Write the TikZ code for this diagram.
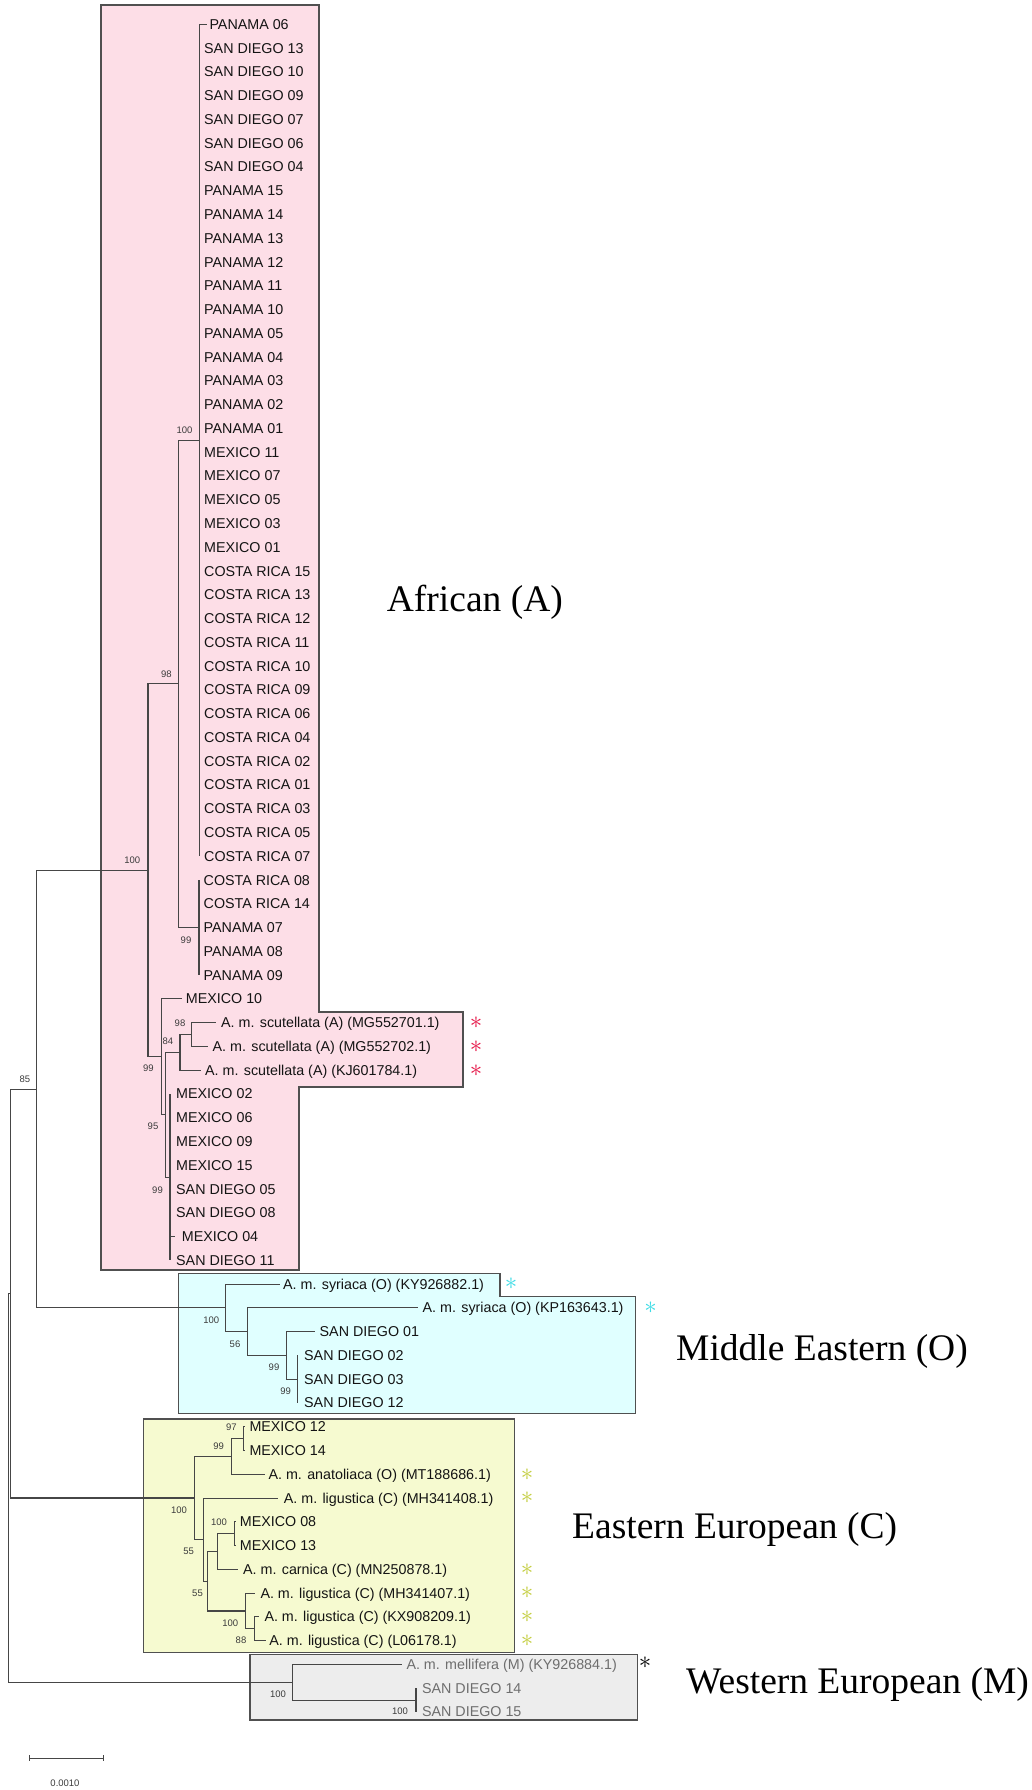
\documentclass[tikz,border=0pt]{standalone}
\usepackage{fontspec}
\setmainfont{Liberation Serif}
\newfontfamily\leafsans{Liberation Sans}
\definecolor{pinkfill}{RGB}{253,222,231}
\definecolor{cyanfill}{RGB}{224,255,255}
\definecolor{yellowfill}{RGB}{246,250,208}
\definecolor{grayfill}{RGB}{237,237,237}
\definecolor{boxborder}{RGB}{80,80,80}
\definecolor{linecol}{RGB}{70,70,70}
\definecolor{leafcol}{RGB}{20,20,20}
\definecolor{westcol}{RGB}{110,110,110}
\definecolor{suppcol}{RGB}{60,60,60}
\definecolor{redast}{RGB}{230,20,70}
\definecolor{cyanast}{RGB}{60,220,230}
\definecolor{yellast}{RGB}{195,205,60}
\newcommand\leaffont{\leafsans\fontsize{14.3}{16}\selectfont}
\newcommand\suppfont{\leafsans\fontsize{9.5}{11}\selectfont}
\newcommand\grpfont{\fontsize{37.5}{40}\selectfont}
\newcommand\astfont{\fontsize{28}{28}\selectfont}
\newcommand\rowy[1]{24.3+(#1-1)*23.77}
\newcommand\mkleaf[5][]{%
  \coordinate (T#2) at (#3,{\rowy{#2}});
  \node[leaf,#1] (L#2) at (#4,{\rowy{#2}}) {#5};}
\tikzset{
  leaf/.style={anchor=base west, inner sep=0pt, font=\leaffont, text=leafcol, yshift=-5pt},
  westleaf/.style={text=westcol},
  supp/.style={inner sep=0pt, font=\suppfont, text=suppcol},
  br/.style={draw=linecol, line width=1.1pt},
  grp/.style={anchor=base west, inner sep=0pt, font=\grpfont, text=black},
  cladebox/.style={draw=boxborder, line width=1.2pt},
  astmark/.style={inner sep=0pt, font=\astfont}
}
\begin{document}
\begin{tikzpicture}[x=1pt,y=-1pt]
\useasboundingbox (0,0) rectangle (1032,1790);
\fill[white] (0,0) rectangle (1032,1790);

% clade boxes
\filldraw[cladebox, fill=pinkfill] (101,5) -- (319,5) -- (319,1012) -- (463,1012) -- (463,1087) -- (299,1087) -- (299,1270) -- (101,1270) -- cycle;
\filldraw[cladebox, fill=cyanfill] (178.5,1273.3) -- (500,1273.3) -- (500,1296.7) -- (635.8,1296.7) -- (635.8,1413.3) -- (178.5,1413.3) -- cycle;
\filldraw[cladebox, fill=yellowfill] (143.75,1419) rectangle (514.3,1652.5);
\filldraw[cladebox, fill=grayfill] (250,1654.5) rectangle (637.5,1720);

% leaves
\mkleaf{1}{207}{209.3}{PANAMA 06}
\mkleaf{2}{199.5}{204}{SAN DIEGO 13}
\mkleaf{3}{199.5}{204}{SAN DIEGO 10}
\mkleaf{4}{199.5}{204}{SAN DIEGO 09}
\mkleaf{5}{199.5}{204}{SAN DIEGO 07}
\mkleaf{6}{199.5}{204}{SAN DIEGO 06}
\mkleaf{7}{199.5}{204}{SAN DIEGO 04}
\mkleaf{8}{199.5}{204}{PANAMA 15}
\mkleaf{9}{199.5}{204}{PANAMA 14}
\mkleaf{10}{199.5}{204}{PANAMA 13}
\mkleaf{11}{199.5}{204}{PANAMA 12}
\mkleaf{12}{199.5}{204}{PANAMA 11}
\mkleaf{13}{199.5}{204}{PANAMA 10}
\mkleaf{14}{199.5}{204}{PANAMA 05}
\mkleaf{15}{199.5}{204}{PANAMA 04}
\mkleaf{16}{199.5}{204}{PANAMA 03}
\mkleaf{17}{199.5}{204}{PANAMA 02}
\mkleaf{18}{199.5}{204}{PANAMA 01}
\mkleaf{19}{199.5}{204}{MEXICO 11}
\mkleaf{20}{199.5}{204}{MEXICO 07}
\mkleaf{21}{199.5}{204}{MEXICO 05}
\mkleaf{22}{199.5}{204}{MEXICO 03}
\mkleaf{23}{199.5}{204}{MEXICO 01}
\mkleaf{24}{199.5}{204}{COSTA RICA 15}
\mkleaf{25}{199.5}{204}{COSTA RICA 13}
\mkleaf{26}{199.5}{204}{COSTA RICA 12}
\mkleaf{27}{199.5}{204}{COSTA RICA 11}
\mkleaf{28}{199.5}{204}{COSTA RICA 10}
\mkleaf{29}{199.5}{204}{COSTA RICA 09}
\mkleaf{30}{199.5}{204}{COSTA RICA 06}
\mkleaf{31}{199.5}{204}{COSTA RICA 04}
\mkleaf{32}{199.5}{204}{COSTA RICA 02}
\mkleaf{33}{199.5}{204}{COSTA RICA 01}
\mkleaf{34}{199.5}{204}{COSTA RICA 03}
\mkleaf{35}{199.5}{204}{COSTA RICA 05}
\mkleaf{36}{199.5}{204}{COSTA RICA 07}
\mkleaf{37}{199}{203.5}{COSTA RICA 08}
\mkleaf{38}{199}{203.5}{COSTA RICA 14}
\mkleaf{39}{199}{203.5}{PANAMA 07}
\mkleaf{40}{199}{203.5}{PANAMA 08}
\mkleaf{41}{199}{203.5}{PANAMA 09}
\mkleaf{42}{181.7}{185.7}{MEXICO 10}
\mkleaf{43}{216}{221}{A. m. scutellata (A) (MG552701.1)}
\mkleaf{44}{208}{212.5}{A. m. scutellata (A) (MG552702.1)}
\mkleaf{45}{200.5}{205}{A. m. scutellata (A) (KJ601784.1)}
\mkleaf{46}{170}{176}{MEXICO 02}
\mkleaf{47}{170}{176}{MEXICO 06}
\mkleaf{48}{170}{176}{MEXICO 09}
\mkleaf{49}{170}{176}{MEXICO 15}
\mkleaf{50}{170}{176}{SAN DIEGO 05}
\mkleaf{51}{170}{176}{SAN DIEGO 08}
\mkleaf{52}{174.5}{181.7}{MEXICO 04}
\mkleaf{53}{170}{176}{SAN DIEGO 11}
\mkleaf{54}{279.5}{283}{A. m. syriaca (O) (KY926882.1)}
\mkleaf{55}{418}{422.5}{A. m. syriaca (O) (KP163643.1)}
\mkleaf{56}{315}{319.5}{SAN DIEGO 01}
\mkleaf{57}{297.9}{304}{SAN DIEGO 02}
\mkleaf{58}{297.9}{304}{SAN DIEGO 03}
\mkleaf{59}{297.9}{304}{SAN DIEGO 12}
\mkleaf{60}{245}{249.3}{MEXICO 12}
\mkleaf{61}{245}{249.3}{MEXICO 14}
\mkleaf{62}{264.6}{268.4}{A. m. anatoliaca (O) (MT188686.1)}
\mkleaf{63}{278}{283.7}{A. m. ligustica (C) (MH341408.1)}
\mkleaf{64}{235.5}{239.7}{MEXICO 08}
\mkleaf{65}{235.5}{239.7}{MEXICO 13}
\mkleaf{66}{238}{243}{A. m. carnica (C) (MN250878.1)}
\mkleaf{67}{254.5}{260.3}{A. m. ligustica (C) (MH341407.1)}
\mkleaf{68}{259}{264.3}{A. m. ligustica (C) (KX908209.1)}
\mkleaf{69}{265.6}{269.2}{A. m. ligustica (C) (L06178.1)}
\mkleaf[westleaf]{70}{401.8}{406.3}{A. m. mellifera (M) (KY926884.1)}
\mkleaf[westleaf]{71}{416}{421.9}{SAN DIEGO 14}
\mkleaf[westleaf]{72}{416}{421.9}{SAN DIEGO 15}

% internal nodes
\coordinate (P1) at (199.5,440.3);
\coordinate (Pc) at (199,927.56);
\coordinate (N98) at (178.3,683.9);
\coordinate (N98s) at (191.7,1034.5);
\coordinate (N84) at (180,1052.3);
\coordinate (P2) at (170,1177.15);
\coordinate (N95) at (165.7,1114.7);
\coordinate (N99b) at (161.7,1056.8);
\coordinate (N100a) at (148,870.35);
\coordinate (N99n) at (297.9,1379.19);
\coordinate (N99m) at (286.4,1355.42);
\coordinate (N56) at (247.3,1331.65);
\coordinate (N100m) at (225.5,1307.88);
\coordinate (N85) at (36.7,1089.1);
\coordinate (N97) at (243.5,1438.6);
\coordinate (N99e) at (231.3,1456.4);
\coordinate (N100x) at (234.4,1533.7);
\coordinate (Ncar) at (217.9,1551.5);
\coordinate (N88) at (254.5,1628.8);
\coordinate (N100l) at (245.5,1611);
\coordinate (N55b) at (207.6,1581.2);
\coordinate (N55a) at (203.1,1539.6);
\coordinate (N100e) at (194.2,1498);
\coordinate (Nmid) at (10.5,1293.6);
\coordinate (N100s) at (416,1700.1);
\coordinate (N100w) at (292.4,1682.3);
\coordinate (Root) at (8.3,1488);

% branches
\foreach \k in {1,...,36} {\draw[br] (P1) |- (T\k);}
\foreach \k in {37,...,41} {\draw[br] (Pc) |- (T\k);}
\draw[br] (N98) |- (P1);
\draw[br] (N98) |- (Pc);
\draw[br] (N98s) |- (T43);
\draw[br] (N98s) |- (T44);
\draw[br] (N84) |- (N98s);
\draw[br] (N84) |- (T45);
\foreach \k in {46,...,53} {\draw[br] (P2) |- (T\k);}
\draw[br] (N95) |- (N84);
\draw[br] (N95) |- (P2);
\draw[br] (N99b) |- (T42);
\draw[br] (N99b) |- (N95);
\draw[br] (N100a) |- (N98);
\draw[br] (N100a) |- (N99b);
\foreach \k in {57,58,59} {\draw[br] (N99n) |- (T\k);}
\draw[br] (N99m) |- (T56);
\draw[br] (N99m) |- (N99n);
\draw[br] (N56) |- (T55);
\draw[br] (N56) |- (N99m);
\draw[br] (N100m) |- (T54);
\draw[br] (N100m) |- (N56);
\draw[br] (N85) |- (N100a);
\draw[br] (N85) |- (N100m);
\draw[br] (N97) |- (T60);
\draw[br] (N97) |- (T61);
\draw[br] (N99e) |- (N97);
\draw[br] (N99e) |- (T62);
\draw[br] (N100x) |- (T64);
\draw[br] (N100x) |- (T65);
\draw[br] (Ncar) |- (N100x);
\draw[br] (Ncar) |- (T66);
\draw[br] (N88) |- (T68);
\draw[br] (N88) |- (T69);
\draw[br] (N100l) |- (T67);
\draw[br] (N100l) |- (N88);
\draw[br] (N55b) |- (Ncar);
\draw[br] (N55b) |- (N100l);
\draw[br] (N55a) |- (T63);
\draw[br] (N55a) |- (N55b);
\draw[br] (N100e) |- (N99e);
\draw[br] (N100e) |- (N55a);
\draw[br] (Nmid) |- (N85);
\draw[br] (Nmid) |- (N100e);
\draw[br] (N100s) |- (T71);
\draw[br] (N100s) |- (T72);
\draw[br] (N100w) |- (T70);
\draw[br] (N100w) |- (N100s);
\draw[br] (Root) |- (Nmid);
\draw[br] (Root) |- (N100w);

% support values
\node[supp] (S1) at (184.5,430) {100};
\node[supp] (S2) at (186,940) {99};
\node[supp] (S3) at (166.3,674) {98};
\node[supp] (S4) at (132.3,860) {100};
\node[supp] (S5) at (148.3,1068.3) {99};
\node[supp] (S6) at (153,1126.7) {95};
\node[supp] (S7) at (167.8,1041.7) {84};
\node[supp] (S8) at (180,1023.3) {98};
\node[supp] (S9) at (157.5,1190) {99};
\node[supp] (S10) at (25,1079.3) {85};
\node[supp] (S11) at (211.2,1320.7) {100};
\node[supp] (S12) at (235,1344) {56};
\node[supp] (S13) at (274,1367.7) {99};
\node[supp] (S14) at (285.6,1391.7) {99};
\node[supp] (S15) at (231.3,1427.3) {97};
\node[supp] (S16) at (218.6,1446) {99};
\node[supp] (S17) at (179,1510.7) {100};
\node[supp] (S18) at (219,1522.7) {100};
\node[supp] (S19) at (188.6,1551.7) {55};
\node[supp] (S20) at (197.5,1593.3) {55};
\node[supp] (S21) at (230.3,1623.3) {100};
\node[supp] (S22) at (241,1640) {88};
\node[supp] (S23) at (278,1694) {100};
\node[supp] (S24) at (400,1711.7) {100};

% asterisks
\node[astmark, text=redast] (A1) at (476,1022.6) {$\ast$};
\node[astmark, text=redast] (A2) at (476,1046.4) {$\ast$};
\node[astmark, text=redast] (A3) at (476,1070.2) {$\ast$};
\node[astmark, text=cyanast] (A4) at (511,1284.1) {$\ast$};
\node[astmark, text=cyanast] (A5) at (650.5,1307.9) {$\ast$};
\node[astmark, text=yellast] (A6) at (527,1474.3) {$\ast$};
\node[astmark, text=yellast] (A7) at (527,1498) {$\ast$};
\node[astmark, text=yellast] (A8) at (527,1569.4) {$\ast$};
\node[astmark, text=yellast] (A9) at (527,1593.1) {$\ast$};
\node[astmark, text=yellast] (A10) at (527,1616.9) {$\ast$};
\node[astmark, text=yellast] (A11) at (527,1640.7) {$\ast$};
\node[astmark, text=black] (A12) at (645,1663) {$\ast$};

% group labels
\node[grp] (GA) at (386.7,611) {African (A)};
\node[grp] (GO) at (676,1360.6) {Middle Eastern (O)};
\node[grp] (GC) at (572,1538) {Eastern European (C)};
\node[grp] (GM) at (686,1693) {Western European (M)};

% scale bar
\coordinate (SB1) at (29,1758);
\coordinate (SB2) at (103,1758);
\draw[linecol, line width=1pt] (SB1) -- (SB2);
\draw[linecol, line width=1pt] ([yshift=3pt]SB1) -- ([yshift=-3pt]SB1);
\draw[linecol, line width=1pt] ([yshift=3pt]SB2) -- ([yshift=-3pt]SB2);
\node[supp] (SBL) at (65,1783) {0.0010};
\end{tikzpicture}
\end{document}
